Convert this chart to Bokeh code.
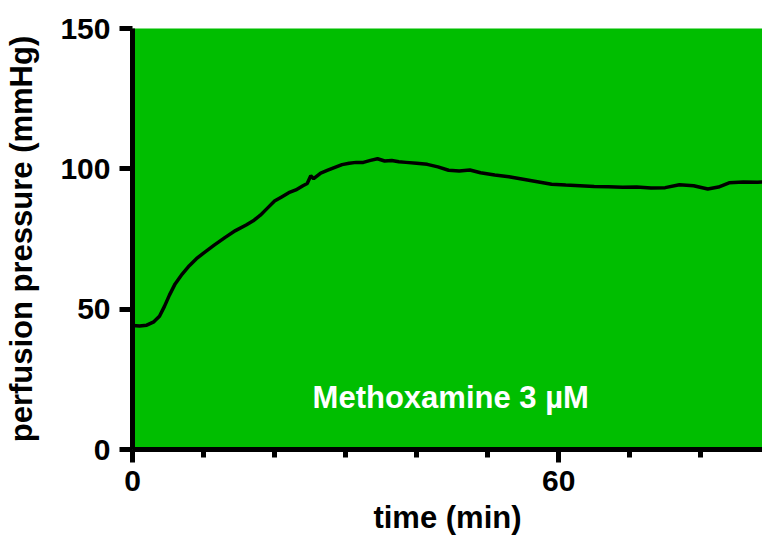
from bokeh.plotting import figure
from bokeh.models import FixedTicker, Label, Range1d
from bokeh.embed import file_html
from bokeh.resources import INLINE

# data
time_min = [0, 1, 2, 3, 3.8, 4.5, 5.2, 6, 7, 8, 9, 10, 11.5, 13, 14.5, 16, 17, 18, 19, 20,
            21, 22, 23, 24, 24.6, 25.1, 25.5, 26.5, 27.5, 28.5, 29.5, 30.5, 31.5, 32.5, 33.5,
            34.5, 35.5, 36.5, 37.5, 38.5, 40, 41.5, 43, 44.5, 46, 47.5, 49, 51, 53, 55, 57,
            59, 61, 63, 65, 67, 69, 71, 73, 75, 77, 79, 81, 82.5, 84, 86, 88, 89]
pressure = [44.2, 44, 44.3, 45.5, 47.5, 51, 55, 59, 62.5, 65.5, 68, 70, 72.8, 75.5, 78, 80,
            81.5, 83.5, 86, 88.5, 90, 91.5, 92.5, 94, 94.8, 97.5, 96.5, 98.5, 99.5, 100.5,
            101.5, 102, 102.3, 102.3, 103, 103.6, 102.8, 103, 102.5, 102.3, 102, 101.6, 100.7,
            99.5, 99.2, 99.6, 98.6, 97.8, 97.2, 96.3, 95.4, 94.5, 94.2, 94, 93.7, 93.6, 93.4,
            93.5, 93.2, 93.3, 94.3, 94, 92.8, 93.5, 95, 95.3, 95.2, 95.4]
x_major_ticks = [0, 60]
x_minor_ticks = [10, 20, 30, 40, 50, 70, 80]
y_major_ticks = [0, 50, 100, 150]
annotation_text = "Methoxamine 3 \u00b5M"
x_title = "time (min)"
y_title = "perfusion pressure (mmHg)"

FONT = "Liberation Sans"

p = figure(width=762, height=538, output_backend="svg", toolbar_location=None,
           x_range=Range1d(0, 88.7), y_range=Range1d(0, 150),
           min_border_left=132, min_border_right=0, min_border_top=28, min_border_bottom=89)
p.background_fill_color = "#00BE00"
p.border_fill_color = "white"
p.outline_line_color = None
p.xgrid.visible = False
p.ygrid.visible = False

p.line(time_min, pressure, line_color="black", line_width=3.5)

p.add_layout(Label(x=44.8, y=18.5, text=annotation_text, text_color="white",
                   text_font=FONT, text_font_style="bold", text_font_size="31px",
                   text_align="center", text_baseline="middle"))

for ax in (p.xaxis[0], p.yaxis[0]):
    ax.axis_line_width = 5
    ax.axis_line_color = "black"
    ax.major_tick_line_width = 5
    ax.major_tick_line_color = "black"
    ax.major_tick_in = 0
    ax.major_tick_out = 13
    ax.minor_tick_line_width = 5
    ax.minor_tick_line_color = "black"
    ax.minor_tick_in = 0
    ax.minor_tick_out = 8
    ax.major_label_text_font = FONT
    ax.major_label_text_font_style = "bold"
    ax.major_label_text_font_size = "30px"
    ax.major_label_text_color = "black"
    ax.axis_label_text_font = FONT
    ax.axis_label_text_font_style = "bold"
    ax.axis_label_text_font_size = "31px"
    ax.axis_label_text_color = "black"

p.xaxis[0].ticker = FixedTicker(ticks=x_major_ticks, minor_ticks=x_minor_ticks)
p.yaxis[0].ticker = FixedTicker(ticks=y_major_ticks, minor_ticks=[])
p.xaxis[0].axis_label = x_title
p.yaxis[0].axis_label = y_title
p.xaxis[0].major_label_standoff = 8
p.xaxis[0].axis_label_standoff = 6
p.yaxis[0].major_label_standoff = 9
p.yaxis[0].axis_label_standoff = 18

open("out.html", "w").write(file_html(p, INLINE))
